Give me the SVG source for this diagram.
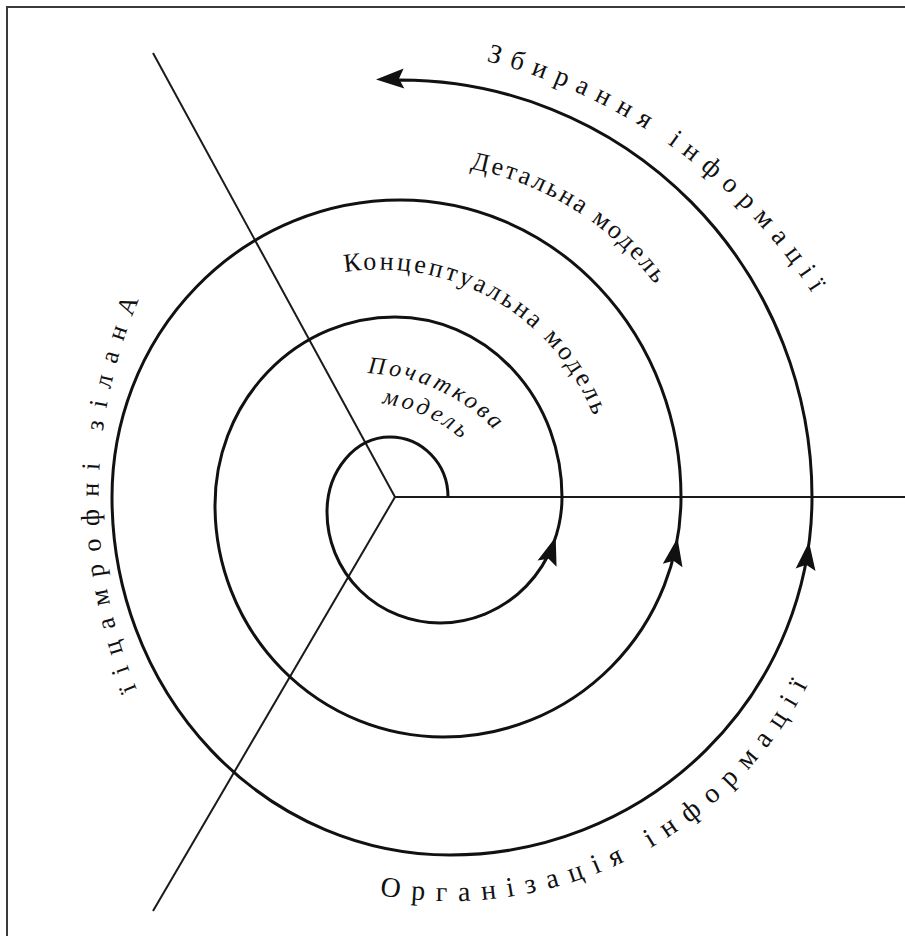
<svg xmlns="http://www.w3.org/2000/svg" xmlns:xlink="http://www.w3.org/1999/xlink" width="905" height="936" viewBox="0 0 905 936">
<style>
.frame{stroke:#3a3a3a;stroke-width:2;fill:none}
.ln{stroke:#1a1a1a;stroke-width:2;fill:none}
.sp{stroke:#111;stroke-width:3;fill:none;stroke-linejoin:round}
.ah{fill:#111}
.t{font-family:"Liberation Serif","Times New Roman",serif;fill:#111}
.big{font-size:27px}
.mid{font-size:26px}
.it{font-size:24px;font-style:italic}
</style>
<defs>
<path id="arrowhead" d="M0,0 L10,28 L0,23 L-10,28 Z"/>
<path id="pTop" d="M486.3,61.2 A547,547 0 0 1 868,404.9"/>
<path id="pBot" d="M379.8,894.9 A404,404 0 0 0 847.9,567.2"/>
<path id="pDet" d="M470,168.6 A303,303 0 0 1 687.5,338.5"/>
<path id="pKon" d="M344.6,272.3 A228.5,228.5 0 0 1 605,458.3"/>
<path id="pPoch" d="M367.5,373.2 A187,187 0 0 1 521.9,466.5"/>
<path id="pMod" d="M382,403.5 A158,158 0 0 1 496.8,481"/>
</defs>
<rect width="905" height="936" fill="#fff"/>
<g id="frame">
<path class="frame" d="M7,936 V7 H905"/>
</g>
<g id="axes">
<line class="ln" x1="395" y1="497" x2="905" y2="497"/>
<line class="ln" x1="395" y1="497" x2="153" y2="53"/>
<line class="ln" x1="395" y1="497" x2="153" y2="911"/>
</g>
<g id="connectors">
<path id="spiral" class="sp" d="M448,497 A58,60 0 0 0 390,437 A63,75 0 0 0 327,512 A113,111 0 0 0 440,623 A122,126 0 0 0 562,497 A167,180 0 0 0 395,317 A180,188 0 0 0 215,505 A228,232 0 0 0 443,737 A238,240 0 0 0 681,497 A281,297 0 0 0 400,200 A288,297 0 0 0 112,497 A338,358 0 0 0 450,855 A362,358 0 0 0 812,497 A412,417 0 0 0 400,80 L392,80.3"/>
<use href="#arrowhead" class="ah" transform="translate(555.7,537) rotate(18)"/>
<use href="#arrowhead" class="ah" transform="translate(677.5,538) rotate(10)"/>
<use href="#arrowhead" class="ah" transform="translate(809,542) rotate(7)"/>
<use href="#arrowhead" class="ah" transform="translate(376,79.5) rotate(-92)"/>
</g>
<g id="label-zbyrannia">
<text class="t big" letter-spacing="9.4"><textPath href="#pTop">Збирання інформації</textPath></text>
</g>
<g id="label-orhanizatsiia">
<text class="t big" style="font-size:28px" letter-spacing="11.1"><textPath href="#pBot">Організація інформації</textPath></text>
</g>
<g id="label-detalna">
<text class="t mid" letter-spacing="2.5"><textPath href="#pDet">Детальна модель</textPath></text>
</g>
<g id="label-kontseptualna">
<text class="t mid" letter-spacing="3"><textPath href="#pKon">Концептуальна модель</textPath></text>
</g>
<g id="label-pochatkova">
<text class="t it" letter-spacing="3.5"><textPath href="#pPoch">Початкова</textPath></text>
<text class="t it" letter-spacing="3.4"><textPath href="#pMod">модель</textPath></text>
</g>
<g id="label-analiz" class="t mid" text-anchor="middle" dominant-baseline="central">
<text x="127.5" y="305.1" transform="rotate(-67.9 127.5 305.1)">А</text>
<text x="117.3" y="332.3" transform="rotate(-71.2 117.3 332.3)">н</text>
<text x="109.7" y="356.6" transform="rotate(-74 109.7 356.6)">а</text>
<text x="103.4" y="381" transform="rotate(-76.9 103.4 381)">л</text>
<text x="98.6" y="403.7" transform="rotate(-79.5 98.6 403.7)">і</text>
<text x="95" y="425.3" transform="rotate(-81.9 95 425.3)">з</text>
<text x="90.9" y="466.3" transform="rotate(-86.6 90.9 466.3)">і</text>
<text x="90.1" y="489.7" transform="rotate(-89.2 90.1 489.7)">н</text>
<text x="90.4" y="517.6" transform="rotate(-92.3 90.4 517.6)">ф</text>
<text x="92.3" y="545.2" transform="rotate(-95.4 92.3 545.2)">о</text>
<text x="95.4" y="570.8" transform="rotate(-98.3 95.4 570.8)">р</text>
<text x="100.1" y="597.9" transform="rotate(-101.4 100.1 597.9)">м</text>
<text x="106.1" y="623.9" transform="rotate(-104.4 106.1 623.9)">а</text>
<text x="112.9" y="648.3" transform="rotate(-107.3 112.9 648.3)">ц</text>
<text x="120.4" y="670.5" transform="rotate(-109.9 120.4 670.5)">і</text>
<text x="127.6" y="689.2" transform="rotate(-112.1 127.6 689.2)">ї</text>
</g>
</svg>
